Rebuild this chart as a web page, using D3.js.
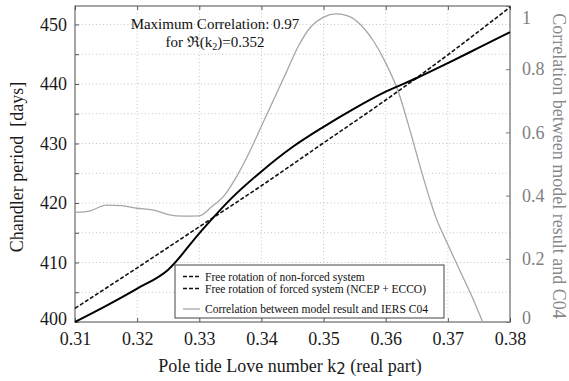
<!DOCTYPE html>
<html>
<head>
<meta charset="utf-8">
<script src="https://cdn.jsdelivr.net/npm/d3@7"></script>
<style>
  html, body { margin: 0; padding: 0; background: #fff; }
  svg, svg text { font-family: "Liberation Serif", "Times New Roman", "DejaVu Serif", serif; }
  svg { display: block; }
</style>
</head>
<body>
<svg id="chart" width="569" height="381"></svg>
<script>
// ---- data ----
const xTicks = [0.31, 0.32, 0.33, 0.34, 0.35, 0.36, 0.37, 0.38];
const yLeftTicks = [400, 410, 420, 430, 440, 450];
const yLeftGrid = [400, 405, 410, 415, 420, 425, 430, 435, 440, 445, 450];
const yRightTicks = [0, 0.2, 0.4, 0.6, 0.8, 1];

// Free rotation of non-forced system (dashed)
const kNonForced = [0.31, 0.32, 0.33, 0.34, 0.35, 0.36, 0.37, 0.38];
const nonForced = [402.3, 409.1, 416.0, 422.9, 430.1, 437.3, 444.9, 452.9];

// Free rotation of forced system (NCEP + ECCO) (drawn solid)
const kForced = [0.31, 0.315, 0.32, 0.325, 0.33, 0.335, 0.34, 0.345, 0.35, 0.355, 0.36, 0.365, 0.37, 0.375, 0.38];
const forced = [400.0, 402.7, 405.6, 408.8, 414.9, 420.6, 425.3, 429.4, 432.8, 435.9, 438.7, 441.0, 443.5, 446.1, 448.7];

// Correlation between model result and IERS C04 (right axis)
const kCorr = [0.310, 0.3125, 0.315, 0.3175, 0.320, 0.3225, 0.325, 0.3275, 0.330, 0.332, 0.334, 0.336, 0.338,
               0.340, 0.342, 0.344, 0.346, 0.348, 0.350, 0.352, 0.354, 0.356, 0.358, 0.360, 0.362, 0.364,
               0.366, 0.368, 0.370, 0.372, 0.374, 0.3756];
const corr = [0.347, 0.352, 0.370, 0.368, 0.360, 0.355, 0.340, 0.335, 0.336, 0.365, 0.400, 0.460, 0.535,
              0.620, 0.705, 0.790, 0.875, 0.935, 0.965, 0.975, 0.968, 0.940, 0.890, 0.820, 0.730, 0.600,
              0.460, 0.335, 0.245, 0.160, 0.075, 0.0];

const legendLabels = [
  "Free rotation of non-forced system",
  "Free rotation of forced system (NCEP + ECCO)",
  "Correlation between model result and IERS C04"
];

// ---- layout ----
const L = 75, R = 510, T = 6, B = 322;
const svg = d3.select("#chart");
const SERIF = '"Liberation Serif", "Times New Roman", "DejaVu Serif", serif';

const x = d3.scaleLinear().domain([0.31, 0.38]).range([L, R]);
const yL = d3.scaleLinear().domain([400, 453.1]).range([B, T]);
const yR = d3.scaleLinear().domain([0, 1]).range([B, T]);

// grid
const grid = svg.append("g").attr("stroke", "#c4c4c4").attr("stroke-width", 1).attr("stroke-dasharray", "1,2.5");
grid.selectAll("line.v").data(xTicks.slice(1, -1)).join("line")
  .attr("x1", d => x(d)).attr("x2", d => x(d)).attr("y1", T).attr("y2", B);
grid.selectAll("line.h").data(yLeftGrid.slice(1)).join("line")
  .attr("x1", L).attr("x2", R).attr("y1", d => yL(d)).attr("y2", d => yL(d));

// frame
svg.append("rect").attr("x", L).attr("y", T).attr("width", R - L).attr("height", B - T)
  .attr("fill", "none").attr("stroke", "#6a6a6a").attr("stroke-width", 1.2);

// axes
const fmtX = d3.format(".2f");
const gx = svg.append("g").attr("transform", `translate(0,${B})`)
  .call(d3.axisBottom(x).tickValues(xTicks).tickFormat(fmtX).tickSize(-4).tickPadding(10));
const gxTop = svg.append("g").attr("transform", `translate(0,${T})`)
  .call(d3.axisTop(x).tickValues(xTicks).tickFormat("").tickSize(-4));
const gl = svg.append("g").attr("transform", `translate(${L},0)`)
  .call(d3.axisLeft(yL).tickValues(yLeftGrid).tickFormat(d => yLeftTicks.includes(d) ? d : "").tickSize(-4).tickPadding(8));
const gr = svg.append("g").attr("transform", `translate(${R},0)`)
  .call(d3.axisRight(yR).tickValues(yRightTicks).tickFormat(d => d3.format("~g")(d)).tickSize(-4).tickPadding(12));

[gx, gxTop, gl, gr].forEach(g => {
  g.attr("font-family", SERIF).attr("font-size", 18);
  g.select(".domain").remove();
  g.selectAll(".tick line").attr("stroke", "#555");
  g.selectAll("text").style("font-family", SERIF);
});
gx.selectAll("text").attr("fill", "#1a1a1a");
gl.selectAll("text").attr("fill", "#1a1a1a");
gr.selectAll(".tick line").attr("stroke", "#777");
gr.selectAll("text").attr("fill", "#808080")
  .attr("dy", d => d === 1 ? "0.95em" : d === 0 ? "0.1em" : "0.32em");
gl.selectAll("text").attr("dy", d => d === 400 ? "0.15em" : "0.32em");

// lines
const lineL = d3.line().x(d => x(d[0])).y(d => yL(d[1])).curve(d3.curveMonotoneX);
const lineR = d3.line().x(d => x(d[0])).y(d => yR(d[1])).curve(d3.curveMonotoneX);

svg.append("path").datum(kCorr.map((k, i) => [k, corr[i]]))
  .attr("d", lineR).attr("fill", "none").attr("stroke", "#a6a6a6").attr("stroke-width", 1.3);
svg.append("path").datum(kNonForced.map((k, i) => [k, nonForced[i]]))
  .attr("d", lineL).attr("fill", "none").attr("stroke", "#111").attr("stroke-width", 1.6)
  .attr("stroke-dasharray", "4,2");
svg.append("path").datum(kForced.map((k, i) => [k, forced[i]]))
  .attr("d", lineL).attr("fill", "none").attr("stroke", "#000").attr("stroke-width", 2);

// annotation
const ann = svg.append("g").attr("font-size", 15).attr("fill", "#111").attr("text-anchor", "middle");
ann.append("text").attr("x", 215).attr("y", 29).text("Maximum Correlation: 0.97");
const t2 = ann.append("text").attr("x", 215).attr("y", 47);
t2.append("tspan").text("for \u211C(k");
t2.append("tspan").attr("font-size", 10).attr("dy", 3).text("2");
t2.append("tspan").attr("dy", -3).text(")=0.352");

// legend
const lg = svg.append("g");
lg.append("rect").attr("x", 175).attr("y", 265).attr("width", 269).attr("height", 53)
  .attr("fill", "#fff").attr("stroke", "#444").attr("stroke-width", 1);
const legY = [276.5, 288.5, 309];
const legStyle = [
  { stroke: "#111", dash: "4,2", w: 1.6 },
  { stroke: "#111", dash: "4,2", w: 1.6 },
  { stroke: "#a6a6a6", dash: null, w: 1.3 }
];
legendLabels.forEach((lab, i) => {
  lg.append("line").attr("x1", 183).attr("x2", 200).attr("y1", legY[i]).attr("y2", legY[i])
    .attr("stroke", legStyle[i].stroke).attr("stroke-width", legStyle[i].w)
    .attr("stroke-dasharray", legStyle[i].dash);
  lg.append("text").attr("x", 205).attr("y", legY[i] + 4).attr("font-size", 11.5).attr("fill", "#111").text(lab);
});

// axis titles
const xt = svg.append("text").attr("x", 290).attr("y", 372).attr("text-anchor", "middle")
  .attr("font-size", 18).attr("fill", "#1a1a1a");
xt.append("tspan").text("Pole tide Love number k");
xt.append("tspan").style("font-family", "'DejaVu Sans', sans-serif").attr("font-size", 15).attr("dy", 2).text("2");
xt.append("tspan").attr("dy", -2).text(" (real part)");

svg.append("text").attr("transform", "translate(23,167) rotate(-90)").attr("text-anchor", "middle")
  .attr("font-size", 18).attr("fill", "#1a1a1a").attr("xml:space", "preserve").text("Chandler period  [days]");

svg.append("text").attr("transform", "translate(553,166) rotate(90)").attr("text-anchor", "middle")
  .attr("font-size", 18).attr("fill", "#888").text("Correlation between model result and C04");
</script>
</body>
</html>
